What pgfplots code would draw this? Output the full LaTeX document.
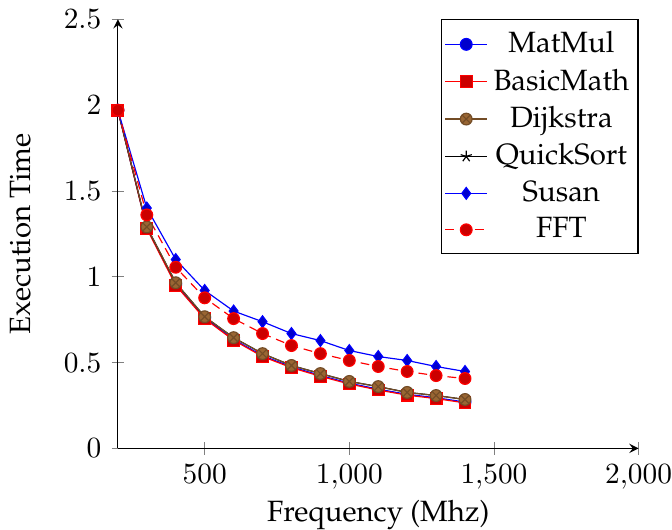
\documentclass[border=0pt]{standalone}
\usepackage[T1]{fontenc}
\usepackage{palatino}
\usepackage{pgfplots}
\pgfplotsset{compat=1.18}
\pgfplotsset{
  sMatMul/.style={blue, every mark/.append style={fill=blue!80!black}, mark=*},
  sBasic/.style={red, every mark/.append style={fill=red!80!black}, mark=square*},
  sDijk/.style={brown!60!black, every mark/.append style={fill=brown!80!black}, mark=otimes*},
  sQuick/.style={black, mark=star},
  sSusan/.style={blue, every mark/.append style={fill=blue!80!black}, mark=diamond*},
  sFFT/.style={red, densely dashed, every mark/.append style={solid, fill=red!80!black}, mark=*},
}
\begin{document}
\begin{tikzpicture}
\begin{axis}[
  scale only axis,
  width=177.5pt, height=146.3pt,
  axis lines=left,
  tick align=center,
  xmin=200, xmax=2000,
  ymin=0, ymax=2.5,
  xtick={500,1000,1500,2000},
  ytick={0,0.5,1,1.5,2,2.5},
  xticklabel style={inner xsep=0pt},
  xlabel={Frequency (Mhz)},
  ylabel={Execution Time},
  ylabel shift=4.4pt,
  xlabel shift=0pt,
  xlabel style={inner ysep=0pt},
  legend cell align=center,
  legend style={at={(1.0,1)}, anchor=north east, inner xsep=1pt},
  legend image code/.code={\draw[mark repeat=2,mark phase=2,#1] plot coordinates {(0cm,0cm) (0.25cm,0cm) (0.5cm,0cm)};},
]
\addlegendimage{sMatMul}\addlegendentry{MatMul}
\addlegendimage{sBasic}\addlegendentry{BasicMath}
\addlegendimage{sDijk}\addlegendentry{Dijkstra}
\addlegendimage{sQuick}\addlegendentry{QuickSort}
\addlegendimage{sSusan}\addlegendentry{Susan}
\addlegendimage{sFFT}\addlegendentry{FFT}

\addplot[sMatMul, forget plot] coordinates {(200,1.97) (300,1.285) (400,0.955) (500,0.76) (600,0.635) (700,0.54) (800,0.475) (900,0.425) (1000,0.38) (1100,0.345) (1200,0.315) (1300,0.295) (1400,0.27)};
\addplot[sBasic, forget plot] coordinates {(200,1.97) (300,1.28) (400,0.95) (500,0.755) (600,0.63) (700,0.535) (800,0.47) (900,0.42) (1000,0.375) (1100,0.34) (1200,0.31) (1300,0.29) (1400,0.265)};
\addplot[sQuick, forget plot] coordinates {(200,1.97) (300,1.29) (400,0.965) (500,0.767) (600,0.645) (700,0.552) (800,0.483) (900,0.436) (1000,0.39) (1100,0.36) (1200,0.326) (1300,0.308) (1400,0.285)};
\addplot[sDijk, forget plot] coordinates {(200,1.97) (300,1.29) (400,0.965) (500,0.767) (600,0.645) (700,0.552) (800,0.483) (900,0.436) (1000,0.39) (1100,0.36) (1200,0.326) (1300,0.308) (1400,0.285)};
\addplot[sSusan, forget plot] coordinates {(200,1.97) (300,1.40) (400,1.10) (500,0.92) (600,0.80) (700,0.738) (800,0.669) (900,0.628) (1000,0.570) (1100,0.535) (1200,0.512) (1300,0.477) (1400,0.448)};
\addplot[sFFT, forget plot] coordinates {(200,1.97) (300,1.36) (400,1.055) (500,0.877) (600,0.756) (700,0.669) (800,0.599) (900,0.552) (1000,0.512) (1100,0.477) (1200,0.448) (1300,0.424) (1400,0.407)};
\end{axis}
\end{tikzpicture}
\end{document}
